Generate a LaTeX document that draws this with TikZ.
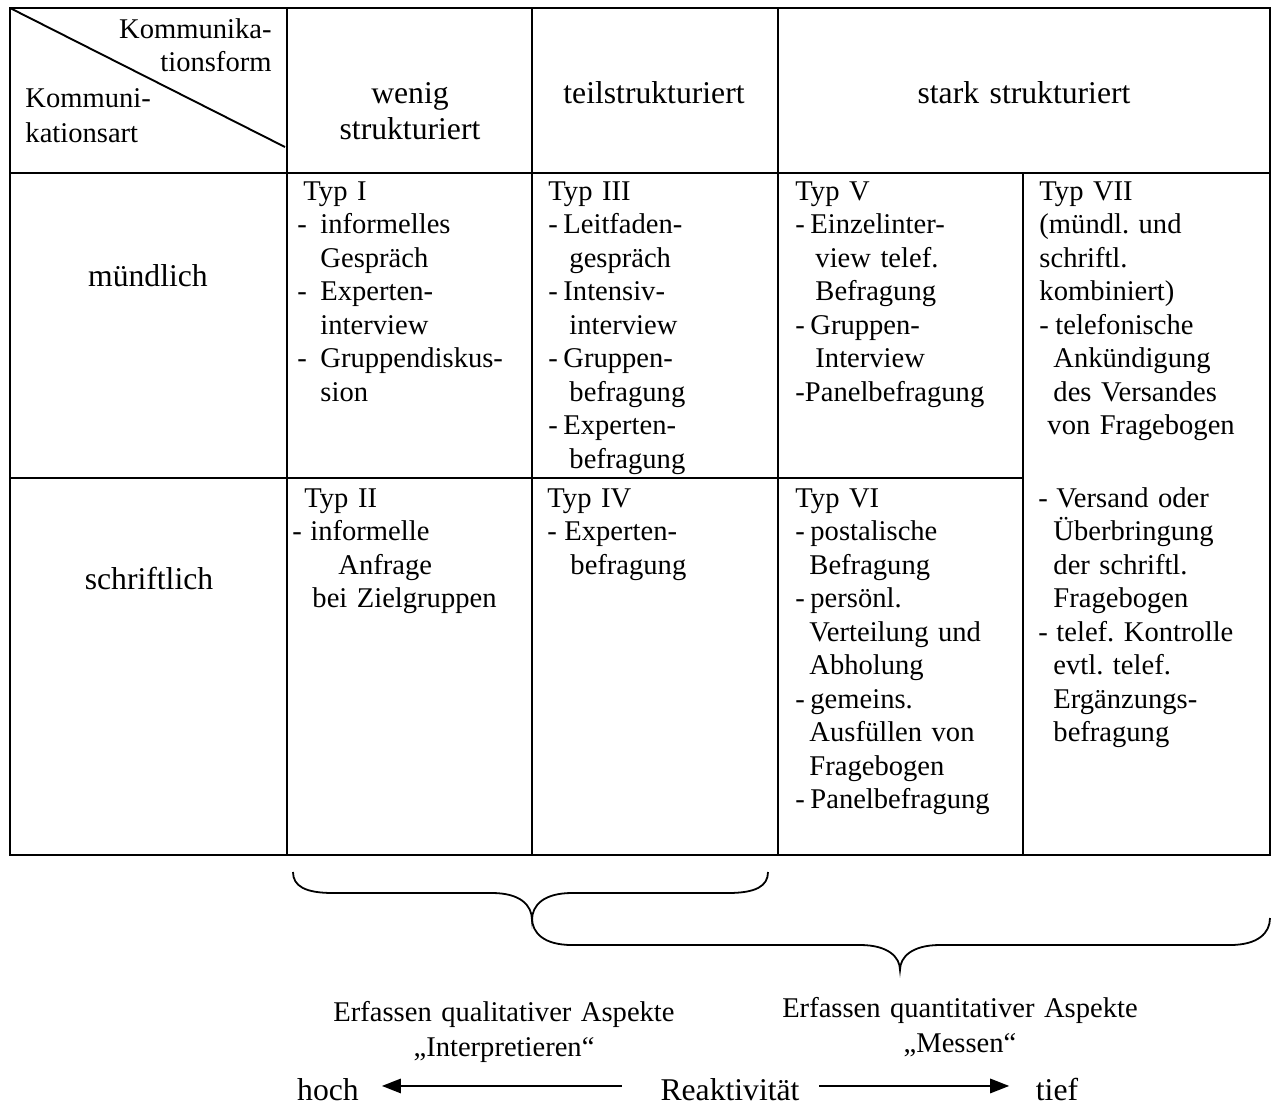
\documentclass[tikz,border=0pt]{standalone}
\usepackage{fontspec}
\setmainfont{Liberation Serif}
\usetikzlibrary{arrows.meta}
% one drawing unit
\newdimen\pxu \pxu=0.42pt
\newcommand\ind[1]{\hspace*{#1\pxu}}
\newcommand\dsh[1]{\makebox[#1\pxu][l]{-}}
\frenchspacing

\begin{document}
\begin{tikzpicture}[x=0.42pt,y=-0.42pt,
  rule/.style={line width=1.2pt},
  thinrule/.style={line width=0.8pt},
  brace/.style={line width=0.75pt},
  cell/.style={anchor=base west, inner sep=0pt, text width=105pt, align=left,
    font=\fontsize{12}{14.07}\selectfont},
  head/.style={anchor=base, inner sep=0pt, text width=120pt, align=center,
    font=\fontsize{13.3}{15.12}\selectfont},
  rowlab/.style={anchor=base, inner sep=0pt, font=\fontsize{13.3}{15}\selectfont},
  note/.style={anchor=base, inner sep=0pt, text width=170pt, align=center,
    font=\fontsize{12}{15}\selectfont},
  scalelab/.style={anchor=base, inner sep=0pt, text height=11.8pt, text depth=0pt,
    font=\fontsize{13.3}{15}\selectfont},
  arr/.style={line width=0.95pt, -{Triangle[length=8pt,width=6pt]}}
]
\useasboundingbox (0,0) rectangle (1275,1104);

% table grid
\draw[rule] (10,8) rectangle (1270,855);
\draw[rule] (10,173) -- (1270,173);
\draw[rule] (10,478) -- (1023,478);
\draw[rule] (287,8) -- (287,855);
\draw[rule] (532,8) -- (532,855);
\draw[rule] (778,8) -- (778,855);
\draw[rule] (1023,173) -- (1023,855);
\draw[thinrule] (10,8) -- (285,147);

% corner labels
\node[anchor=base east, inner sep=0pt, text width=110pt, align=right,
  font=\fontsize{12}{13.86}\selectfont] (kform) at (272,38) {Kommunika-\\tionsform};
\node[anchor=base west, inner sep=0pt, text width=110pt, align=left,
  font=\fontsize{12}{14.7}\selectfont] (kart) at (25,107) {Kommuni-\\kationsart};

% column heads
\node[head] (wenig) at (410,103) {wenig\\strukturiert};
\node[head] (teil) at (654,103) {teilstrukturiert};
\node[head] (stark) at (1024,103) {stark strukturiert};

% row heads
\node[rowlab] (muendl) at (148,286) {mündlich};
\node[rowlab] (schriftl) at (149,589) {schriftlich};

% cells
\node[cell] (typ1) at (297,200) {\ind{6}Typ I\\
\dsh{23}informelles\\
\ind{23}Gespräch\\
\dsh{23}Experten-\\
\ind{23}interview\\
\dsh{23}Gruppendiskus-\\
\ind{23}sion};

\node[cell] (typ3) at (548,200) {Typ III\\
\dsh{15}Leitfaden-\\
\ind{21}gespräch\\
\dsh{15}Intensiv-\\
\ind{21}interview\\
\dsh{15}Gruppen-\\
\ind{21}befragung\\
\dsh{15}Experten-\\
\ind{21}befragung};

\node[cell] (typ5) at (795,200) {Typ V\\
\dsh{15}Einzelinter-\\
\ind{20}view telef.\\
\ind{20}Befragung\\
\dsh{15}Gruppen-\\
\ind{20}Interview\\
-Panelbefragung};

\node[cell] (typ7a) at (1039,200) {Typ VII\\
(mündl. und\\
schriftl.\\
kombiniert)\\
\dsh{16}telefonische\\
\ind{14}Ankündigung\\
\ind{14}des Versandes\\
\ind{8}von Fragebogen};

\node[cell] (typ7b) at (1038,507) {\dsh{18}Versand oder\\
\ind{15}Überbringung\\
\ind{15}der schriftl.\\
\ind{15}Fragebogen\\
\dsh{18}telef. Kontrolle\\
\ind{15}evtl. telef.\\
\ind{15}Ergänzungs-\\
\ind{15}befragung};

\node[cell] (typ2) at (292,507) {\ind{12}Typ II\\
\dsh{18}informelle\\
\ind{46}Anfrage\\
\ind{20}bei Zielgruppen};

\node[cell] (typ4) at (547,507) {Typ IV\\
\dsh{17}Experten-\\
\ind{23}befragung};

\node[cell] (typ6) at (795,507) {Typ VI\\
\dsh{15}postalische\\
\ind{14}Befragung\\
\dsh{15}persönl.\\
\ind{14}Verteilung und\\
\ind{14}Abholung\\
\dsh{15}gemeins.\\
\ind{14}Ausfüllen von\\
\ind{14}Fragebogen\\
\dsh{15}Panelbefragung};

% braces
\draw[brace] (293,872) .. controls (293,886) and (305,893) .. (333,893)
  -- (492,893) .. controls (520,893) and (532,905) .. (532,920)
  .. controls (532,905) and (544,893) .. (572,893)
  -- (728,893) .. controls (756,893) and (768,886) .. (768,872);
\draw[brace] (532,918) .. controls (532,933) and (544,945) .. (572,945)
  -- (860,945) .. controls (888,945) and (900,957) .. (900,970)
  .. controls (900,957) and (912,945) .. (940,945)
  -- (1230,945) .. controls (1258,945) and (1270,933) .. (1270,918);

% aspects
\node[note] (quali) at (504,1021) {Erfassen qualitativer Aspekte\\„Interpretieren“};
\node[note] (quanti) at (960,1017) {Erfassen quantitativer Aspekte\\„Messen“};

% reactivity scale
\node[scalelab] (hoch) at (328,1100) {hoch};
\node[scalelab] (reakt) at (730,1100) {Reaktivität};
\node[scalelab] (tief) at (1057,1100) {tief};
\draw[arr] ([xshift=-16pt]reakt.west) -- ([xshift=9.5pt]hoch.east);
\draw[arr] ([xshift=8pt]reakt.east) -- ([xshift=-11pt]tief.west);
\end{tikzpicture}
\end{document}
